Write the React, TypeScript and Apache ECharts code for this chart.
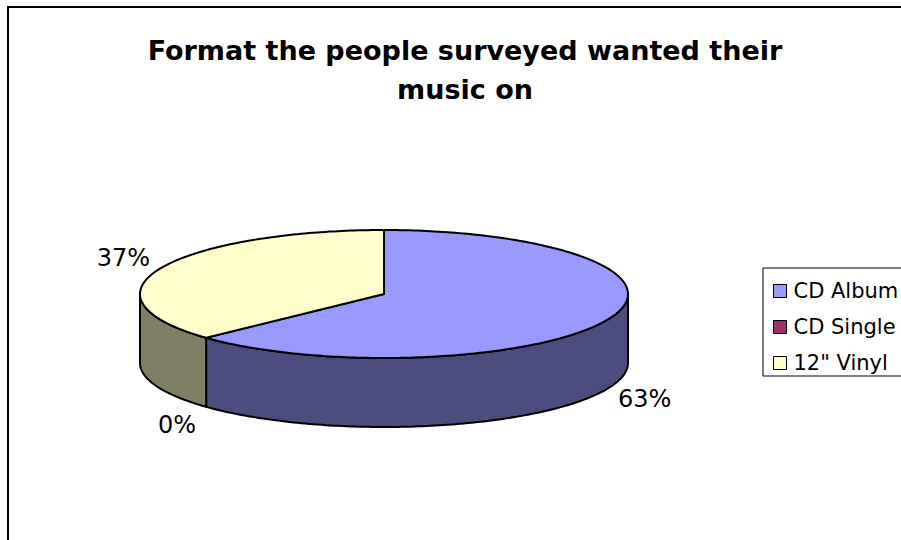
import React, { useEffect, useRef } from "react";
import * as echarts from "echarts";

const titleText = "Format the people surveyed wanted their\nmusic on";
const categories = ["CD Album", "CD Single", "12\" Vinyl"];
const values = [63, 0, 37];
const topColors = ["#9999FF", "#993366", "#FFFFCC"];
const sideColors = ["#4C4C7F", "#4D1A33", "#7F7F66"];

const CX = 384;
const CY = 294;
const RX = 244;
const RY = 64;
const DEPTH = 69;
const FONT = "DejaVu Sans";

function pt(deg: number, rx: number, ry: number, dy = 0): number[] {
  const r = (deg * Math.PI) / 180;
  return [CX + rx * Math.sin(r), CY - ry * Math.cos(r) + dy];
}

function arc(a: number, b: number, dy: number): number[][] {
  const pts: number[][] = [];
  const n = Math.max(2, Math.ceil((b - a) / 1));
  for (let k = 0; k <= n; k++) {
    pts.push(pt(a + ((b - a) * k) / n, RX, RY, dy));
  }
  return pts;
}

export default function App() {
  const ref = useRef<HTMLDivElement>(null);
  useEffect(() => {
    if (!ref.current) return;
    const chart = echarts.init(ref.current, undefined, { renderer: "svg" });
    const total = values.reduce((s, v) => s + v, 0);

    const makeRender = (i: number) => (params: any, api: any) => {
      const v = api.value(0);
      let before = 0;
      for (let k = 0; k < i; k++) before += values[k];
      const a = (before / total) * 360;
      const b = ((before + v) / total) * 360;
      const children: any[] = [];
      const s = Math.max(a, 90);
      const e = Math.min(b, 270);
      if (e > s) {
        const top = arc(s, e, 0);
        const bottom = arc(s, e, DEPTH).reverse();
        children.push({
          type: "polygon",
          shape: { points: top.concat(bottom) },
          style: { fill: sideColors[i], stroke: "#000", lineWidth: 2, lineJoin: "round" },
          z2: 1,
        });
      }
      if (b > a) {
        children.push({
          type: "polygon",
          shape: { points: [[CX, CY]].concat(arc(a, b, 0)) },
          style: { fill: topColors[i], stroke: "#000", lineWidth: 2, lineJoin: "round" },
          z2: 2,
        });
      }
      const mid = (a + b) / 2;
      const front = Math.cos((mid * Math.PI) / 180) < 0;
      const lp = pt(mid, RX + 40, RY + 27, front ? DEPTH : 0);
      children.push({
        type: "text",
        x: lp[0],
        y: lp[1],
        style: {
          text: Math.round((v / total) * 100) + "%",
          align: "center",
          verticalAlign: "middle",
          fontFamily: FONT,
          fontSize: 24,
          fill: "#000",
        },
        z2: 3,
      });
      return { type: "group", children };
    };

    chart.setOption({
      animation: false,
      backgroundColor: "#ffffff",
      title: {
        text: titleText,
        left: 460,
        top: 26,
        textAlign: "center",
        textStyle: {
          fontFamily: FONT,
          fontWeight: "bold",
          fontSize: 27,
          lineHeight: 39,
          color: "#000",
        },
      },
      legend: {
        orient: "vertical",
        left: 763,
        top: 268,
        selectedMode: false,
        icon: "rect",
        itemWidth: 13,
        itemHeight: 13,
        itemGap: 12,
        padding: [11, 4, 1, 10],
        borderColor: "#000",
        borderWidth: 1,
        borderRadius: 0,
        data: categories.map((n, i) => ({
          name: n,
          itemStyle: { color: topColors[i], borderColor: "#000", borderWidth: 1 },
        })),
        textStyle: {
          fontFamily: FONT,
          fontSize: 21,
          lineHeight: 24,
          color: "#000",
          padding: [0, 0, 0, 2],
        },
      },
      graphic: [
        {
          type: "rect",
          shape: { x: 8, y: 7, width: 1200, height: 1200 },
          style: { fill: "none", stroke: "#000", lineWidth: 2 },
          silent: true,
        },
      ],
      series: categories.map((name, i) => ({
        type: "custom",
        name,
        coordinateSystem: "none",
        itemStyle: { color: topColors[i], borderColor: "#000", borderWidth: 1 },
        data: [values[i]],
        renderItem: makeRender(i),
      })),
    });
    return () => chart.dispose();
  }, []);
  return (
    <div
      ref={ref}
      style={{ position: "absolute", left: 0, top: 0, width: 901, height: 540, background: "#fff" }}
    />
  );
}
